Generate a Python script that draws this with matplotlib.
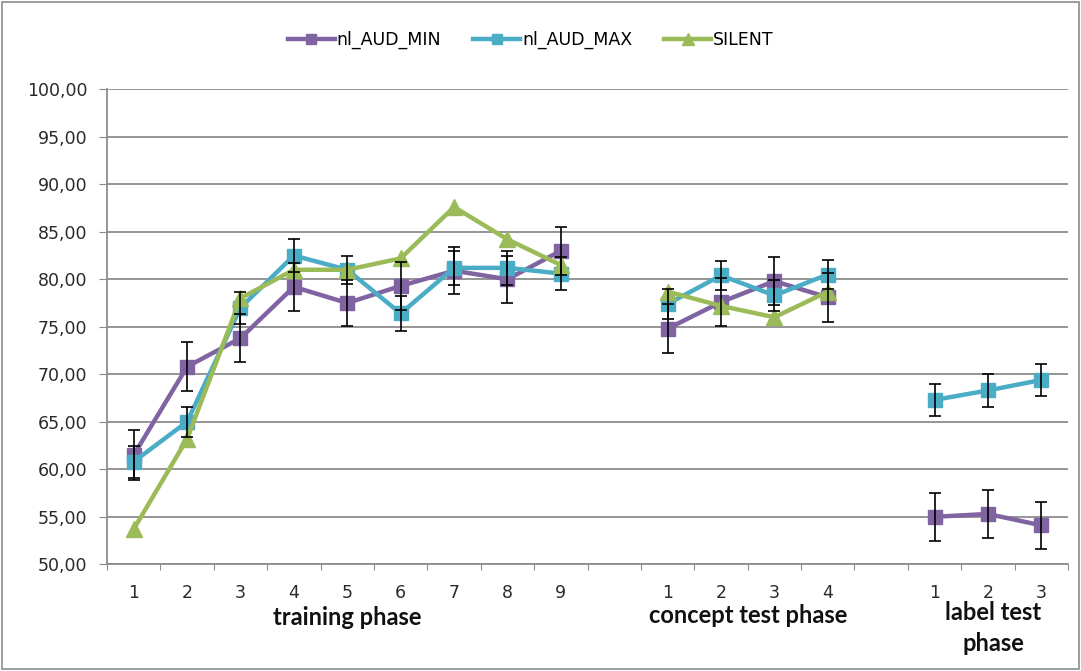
import numpy as np
import matplotlib.pyplot as plt
from matplotlib.patches import Rectangle

# Fases e rótulos dos blocos
training_ticks = ['1', '2', '3', '4', '5', '6', '7', '8', '9']
concept_ticks = ['1', '2', '3', '4']
label_ticks = ['1', '2', '3']
phase_names = ['training phase', 'concept test phase', 'label test\nphase']

# Médias por condição (treino, teste de conceito, teste de rótulo)
min_training = [61.5, 70.8, 73.8, 79.2, 77.5, 79.3, 80.9, 80.0, 83.0]
min_concept = [74.8, 77.6, 79.8, 78.1]
min_label = [55.0, 55.3, 54.1]

max_training = [60.8, 65.0, 77.0, 82.5, 81.0, 76.4, 81.2, 81.2, 80.6]
max_concept = [77.4, 80.4, 78.3, 80.5]
max_label = [67.3, 68.3, 69.4]

silent_training = [53.7, 63.2, 78.0, 81.0, 81.0, 82.2, 87.6, 84.2, 81.5]
silent_concept = [78.7, 77.2, 76.0, 78.7]

# Erros padrão
min_err_training = [2.6, 2.6, 2.5, 2.5, 2.4, 2.5, 2.5, 2.5, 2.5]
min_err_concept = [2.6, 2.5, 2.5, 2.6]
min_err_label = [2.5, 2.5, 2.5]
max_err_training = [1.7, 1.6, 1.7, 1.7, 1.5, 1.8, 1.8, 1.8, 1.7]
max_err_concept = [1.6, 1.5, 1.6, 1.5]
max_err_label = [1.7, 1.7, 1.7]

c_min = '#8064A2'
c_max = '#4BACC6'
c_silent = '#9BBB59'
c_grid = '#8C8C8C'
c_text = '#2A2A2A'

# posições no eixo x (uma categoria vazia entre as fases)
x_tr = np.arange(len(training_ticks))
x_co = np.arange(len(concept_ticks)) + len(training_ticks) + 1
x_la = np.arange(len(label_ticks)) + x_co[-1] + 2
n_cat = x_la[-1] + 1

fig = plt.figure(figsize=(10.81, 6.71), dpi=100)
ax = fig.add_axes([0.099, 0.159, 0.889, 0.708])

def serie(x, y, err, cor, marker, ms, label=None):
    ax.plot(x, y, color=cor, lw=3.2, marker=marker, ms=ms, mec=cor, mfc=cor,
            label=label, zorder=3)
    if err is not None:
        ax.errorbar(x, y, yerr=err, fmt='none', ecolor='black', elinewidth=1.2,
                    capsize=4.5, capthick=1.2, zorder=4)

serie(x_tr, min_training, min_err_training, c_min, 's', 10.5, 'nl_AUD_MIN')
serie(x_co, min_concept, min_err_concept, c_min, 's', 10.5)
serie(x_la, min_label, min_err_label, c_min, 's', 10.5)

serie(x_tr, max_training, max_err_training, c_max, 's', 10.5, 'nl_AUD_MAX')
serie(x_co, max_concept, max_err_concept, c_max, 's', 10.5)
serie(x_la, max_label, max_err_label, c_max, 's', 10.5)

serie(x_tr, silent_training, None, c_silent, '^', 11, 'SILENT')
serie(x_co, silent_concept, None, c_silent, '^', 11)

ax.set_xlim(-0.5, n_cat - 0.5)
ax.set_ylim(50, 100)
yt = np.arange(50, 101, 5)
ax.set_yticks(yt)
ax.set_yticklabels([f'{v:.2f}'.replace('.', ',') for v in yt],
                   fontsize=12.5, color=c_text)
ax.yaxis.grid(True, color=c_grid, lw=1.3)
ax.set_axisbelow(True)

ax.set_xticks(np.arange(n_cat + 1) - 0.5)
ax.set_xticklabels([])
ax.tick_params(axis='x', length=4.5, color=c_grid, direction='out')
ax.tick_params(axis='y', length=6, color=c_grid, direction='out', pad=8)

for s in ['top', 'right']:
    ax.spines[s].set_visible(False)
for s in ['left', 'bottom']:
    ax.spines[s].set_color(c_grid)
    ax.spines[s].set_linewidth(1.3)

# números das categorias e nomes das fases
tr = ax.get_xaxis_transform()
for xs, ticks in [(x_tr, training_ticks), (x_co, concept_ticks), (x_la, label_ticks)]:
    for xi, t in zip(xs, ticks):
        ax.text(xi, -0.061, t, transform=tr, ha='center', va='center',
                fontsize=12.5, color=c_text)

phase_style = dict(transform=tr, ha='center', va='center', fontsize=17,
                   fontweight='bold', family='Lato', color='#111111')
ax.text(x_tr.mean(), -0.113, phase_names[0], **phase_style)
ax.text(x_co.mean(), -0.107, phase_names[1], **phase_style)
for k, linha in enumerate(phase_names[2].split('\n')):
    ax.text(x_la.mean() + 0.1, -0.101 - 0.066 * k, linha, **phase_style)

fig.legend(loc='center', bbox_to_anchor=(0.491, 0.94), ncol=3, frameon=False,
           fontsize=12.5, handlelength=2.7, handletextpad=0.1, columnspacing=1.85,
           markerscale=0.75)

# moldura do gráfico
fig.patches.append(Rectangle((0.002, 0.003), 0.996, 0.994, transform=fig.transFigure,
                             fill=False, edgecolor=c_grid, lw=1.2))

fig.savefig('out.png', dpi=100)
